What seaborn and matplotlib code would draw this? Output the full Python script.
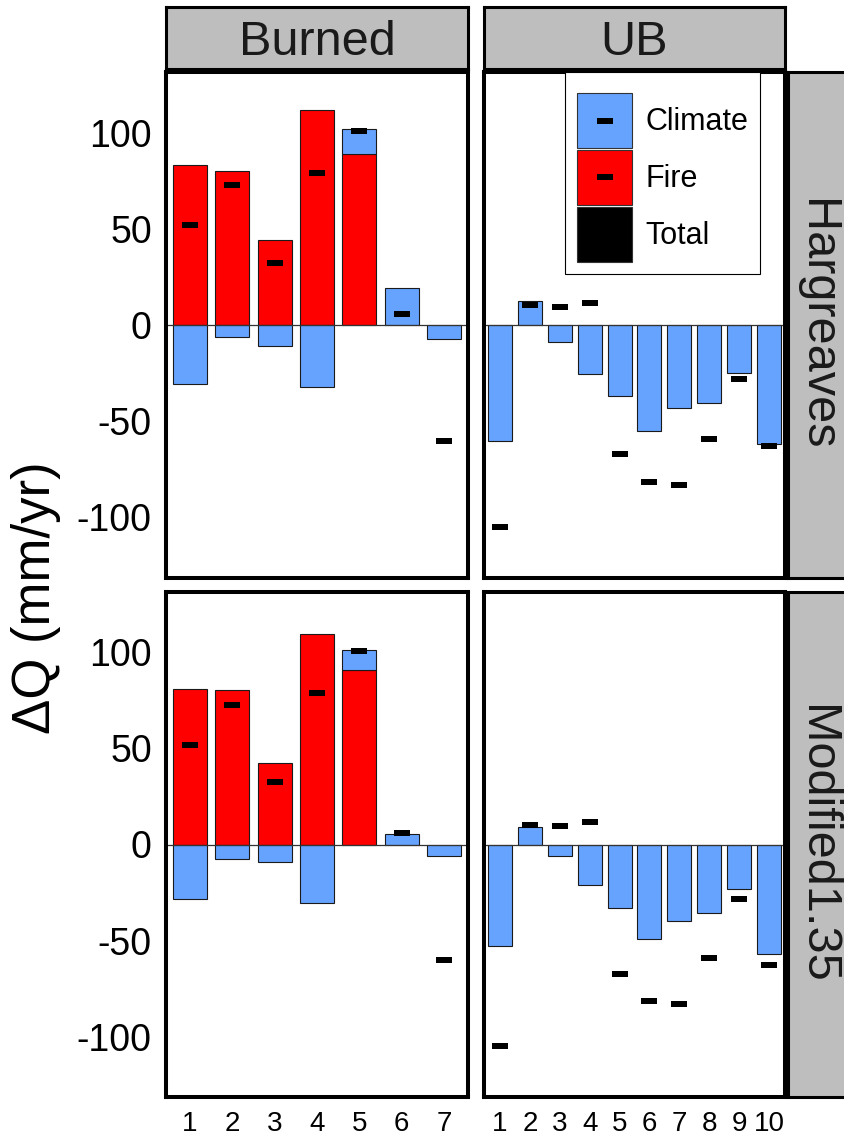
import numpy as np
import pandas as pd
import matplotlib
matplotlib.use("Agg")
import matplotlib.pyplot as plt
from matplotlib.path import Path
from matplotlib.patches import Patch
from matplotlib.lines import Line2D
from matplotlib.legend_handler import HandlerTuple, HandlerLine2D
import seaborn as sns

# ---- data -------------------------------------------------------------
burned_ids = ["1", "2", "3", "4", "5", "6", "7"]
ub_ids = ["1", "2", "3", "4", "5", "6", "7", "8", "9", "10"]

# Hargreaves PET
climate_harg_burned = [-30.7, -6.4, -10.8, -32.3, 13.0, 19.3, -7.5]
fire_harg_burned = [83.3, 80.2, 44.1, 112.0, 88.9, 0.0, 0.0]
climate_harg_ub = [-60.1, 12.7, -8.9, -25.5, -37.1, -55.2, -43.2, -40.8, -24.8, -62.0]

# Modified Hargreaves (1.35)
climate_mod_burned = [-28.6, -7.3, -9.3, -30.5, 10.5, 5.5, -6.1]
fire_mod_burned = [81.0, 80.5, 42.2, 109.6, 90.9, 0.0, 0.0]
climate_mod_ub = [-53.0, 9.0, -5.9, -21.3, -33.1, -49.3, -39.7, -35.7, -23.3, -57.1]

# Observed total change
total_burned = [51.8, 72.7, 32.4, 78.8, 101.0, 5.9, -60.1]
total_ub = [-105.0, 10.3, 9.5, 11.6, -67.2, -81.5, -83.0, -59.0, -28.3, -62.8]

col_labels = ["Burned", "UB"]
row_labels = ["Hargreaves", "Modified1.35"]
yticks = [-100, -50, 0, 50, 100]

# ---- style ------------------------------------------------------------
sns.set_theme(style="white")
plt.rcParams["font.family"] = ["Liberation Sans", "DejaVu Sans"]
plt.rcParams["axes.unicode_minus"] = False
plt.rcParams["text.color"] = "black"

CLIMATE = "#66A3FF"
FIRE = "#FF0000"
EDGE = "#1a1a1a"
STRIP = "#BEBEBE"

W, H = 844, 1137
fig = plt.figure(figsize=(W / 100, H / 100), dpi=100)


def px_axes(x0, y0, x1, y1):
    return fig.add_axes([x0 / W, 1 - y1 / H, (x1 - x0) / W, (y1 - y0) / H])


# wide flat dash used for the total-change markers
dash = Path([(-1, -0.32), (1, -0.32), (1, 0.32), (-1, 0.32), (-1, -0.32)],
            [Path.MOVETO, Path.LINETO, Path.LINETO, Path.LINETO, Path.CLOSEPOLY])

col_x = [(166, 468), (484, 785)]
row_y = [(72, 578), (592, 1097)]

panels = {
    (0, 0): (burned_ids, climate_harg_burned, fire_harg_burned, total_burned),
    (0, 1): (ub_ids, climate_harg_ub, None, total_ub),
    (1, 0): (burned_ids, climate_mod_burned, fire_mod_burned, total_burned),
    (1, 1): (ub_ids, climate_mod_ub, None, total_ub),
}

axes = {}
for (r, c), (ids, climate, fire, total) in panels.items():
    x0, x1 = col_x[c]
    y0, y1 = row_y[r]
    ax = px_axes(x0, y0, x1, y1)
    axes[(r, c)] = ax
    climate = np.asarray(climate)

    # fire component (drawn from zero upward)
    if fire is not None:
        fire = np.asarray(fire)
        keep = fire != 0
        fdf = pd.DataFrame({"id": np.asarray(ids)[keep], "val": fire[keep]})
        sns.barplot(data=fdf, x="id", y="val", order=ids, color=FIRE,
                    saturation=1, width=0.8, errorbar=None,
                    edgecolor=EDGE, linewidth=0.8, ax=ax)
        base = np.where((climate > 0) & (fire > 0), fire, 0.0)
    else:
        base = np.zeros_like(climate)

    # climate component, stacked on top of positive fire bars
    cdf = pd.DataFrame({"id": ids, "val": climate})
    sns.barplot(data=cdf, x="id", y="val", order=ids, color=CLIMATE,
                saturation=1, width=0.8, errorbar=None, bottom=base,
                edgecolor=EDGE, linewidth=0.8, ax=ax)

    ax.axhline(0, color="#333333", lw=0.9, zorder=1.5)

    tdf = pd.DataFrame({"id": ids, "val": total})
    sns.stripplot(data=tdf, x="id", y="val", order=ids, jitter=False,
                  color="black", marker=dash, size=12, linewidth=0,
                  zorder=5, ax=ax)

    n = len(ids)
    pad = 0.57 if n == 7 else 0.535
    ax.set_xlim(-pad, n - 1 + pad)
    ax.set_ylim(-131.5, 131.5)
    ax.set_xlabel("")
    ax.set_ylabel("")
    ax.set_yticks(yticks)
    for s in ax.spines.values():
        s.set_linewidth(2.9)
        s.set_color("black")
    ax.tick_params(axis="both", which="both", length=3.2, width=0.8,
                   color="#333333", direction="out")
    ax.tick_params(axis="y", labelsize=27, pad=7, labelcolor="black")
    ax.tick_params(axis="x", labelsize=20, pad=7, labelcolor="black")
    if c == 1:
        ax.tick_params(axis="y", left=False, labelleft=False)
    if r == 0:
        ax.tick_params(axis="x", bottom=False, labelbottom=False)
    ax.grid(False)
    ax.set_facecolor("white")

# ---- facet strips -------------------------------------------------------
for c, label in enumerate(col_labels):
    x0, x1 = col_x[c]
    sax = px_axes(x0, 6.5, x1, 69)
    sax.set_facecolor(STRIP)
    sax.set_xticks([])
    sax.set_yticks([])
    for s in sax.spines.values():
        s.set_linewidth(2.2)
        s.set_color("black")
    sax.text(0.5, 0.43, label, transform=sax.transAxes, ha="center",
             va="center", fontsize=35, color="#1a1a1a")

for r, label in enumerate(row_labels):
    y0, y1 = row_y[r]
    sax = px_axes(788, y0, 848, y1)
    sax.set_facecolor(STRIP)
    sax.set_xticks([])
    sax.set_yticks([])
    for s in sax.spines.values():
        s.set_linewidth(2.2)
        s.set_color("black")
    sax.text(0.48, 0.5, label, transform=sax.transAxes, ha="center",
             va="center", rotation=270, fontsize=35, color="#1a1a1a")

# ---- axis label -------------------------------------------------------
fig.text(36 / W, 1 - 598 / H, "ΔQ (mm/yr)", rotation=90, ha="center",
         va="center", fontsize=38, color="black")


# ---- legend -----------------------------------------------------------
class CenteredMarkerHandler(HandlerLine2D):
    """Place a legend marker at the centre of the key box."""

    def create_artists(self, legend, orig_handle, xdescent, ydescent,
                       width, height, fontsize, trans):
        artists = super().create_artists(legend, orig_handle, xdescent,
                                         ydescent, width, height, fontsize,
                                         trans)
        for a in artists:
            a.set_ydata(np.asarray(a.get_ydata()) - ydescent / 2)
        return artists


mk = dict(linestyle="none", marker=dash, color="black", markersize=12,
          markeredgewidth=0)
handles = [
    (Patch(facecolor=CLIMATE, edgecolor="#333333", linewidth=0.8), Line2D([], [], **mk)),
    (Patch(facecolor=FIRE, edgecolor="#333333", linewidth=0.8), Line2D([], [], **mk)),
    Patch(facecolor="black", edgecolor="#333333", linewidth=0.8),
]
leg = axes[(0, 1)].legend(
    handles, ["Climate", "Fire", "Total"],
    handler_map={tuple: HandlerTuple(ndivide=1, pad=0),
                 Line2D: CenteredMarkerHandler()},
    loc="upper left", bbox_to_anchor=(565 / W, 1 - 72 / H),
    bbox_transform=fig.transFigure, fontsize=22,
    handlelength=1.8, handleheight=2.39, handletextpad=0.42,
    labelspacing=0.06, borderpad=0.4, borderaxespad=0,
    frameon=True, fancybox=False, framealpha=1, edgecolor="black",
    title=" ", title_fontsize=5,
)
leg.get_frame().set_linewidth(0.8)
for t in leg.get_texts():
    t.set_color("black")

fig.savefig("out.png", dpi=100)
